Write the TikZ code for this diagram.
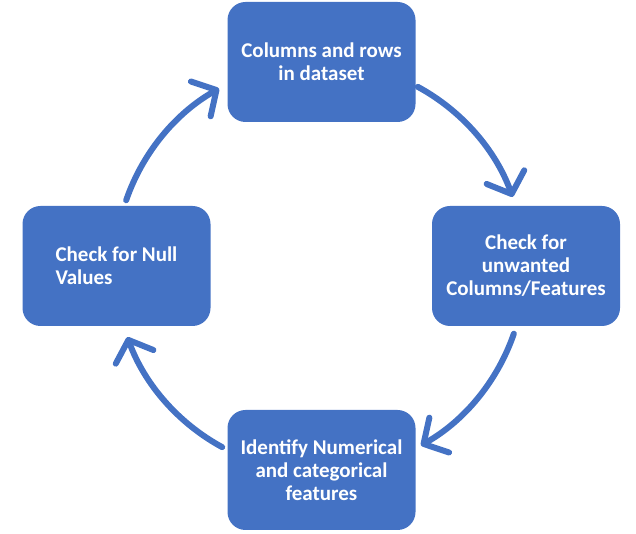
\documentclass[tikz,border=0pt]{standalone}
\usepackage{fontspec}
\setmainfont{Carlito}
\usetikzlibrary{arrows.meta}
\definecolor{boxblue}{HTML}{4472C4}
\tikzset{
  stage/.style={draw=none, fill=boxblue, rounded corners=18pt, minimum width=188pt, minimum height=120pt,
    text=white, font=\bfseries\fontsize{21}{23}\selectfont, align=center, inner sep=0pt},
  cyc/.style={draw=boxblue, line width=6pt, line cap=round,
    -{Straight Barb[length=18pt, width=40pt, line cap=round, line join=round]}}
}
\begin{document}
\begin{tikzpicture}[x=1pt,y=1pt]
\useasboundingbox (0,0) rectangle (636,534);
\node[stage] (top) at (321.5,472) {Columns and rows\\in dataset};
\node[stage] (right) at (526,268) {Check for\\unwanted\\Columns/Features};
\node[stage] (bottom) at (321.5,64) {Identify Numerical\\and categorical\\features};
\node[stage, align=left] (left) at (116.5,268) {Check for Null\\Values};
\coordinate (c) at (320,267);
\draw[cyc] ([shift={(161:205)}]c) arc[start angle=161, end angle=119.5, radius=205];
\draw[cyc] ([shift={(61.5:205)}]c) arc[start angle=61.5, end angle=20, radius=205];
\draw[cyc] ([shift={(-19:205)}]c) arc[start angle=-19, end angle=-60.5, radius=205];
\draw[cyc] ([shift={(-118.5:205)}]c) arc[start angle=-118.5, end angle=-160, radius=205];
\end{tikzpicture}
\end{document}
